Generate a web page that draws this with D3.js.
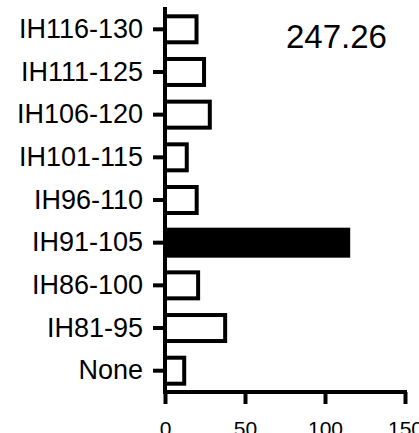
<!DOCTYPE html>
<html>
<head>
<meta charset="utf-8">
<script src="https://cdn.jsdelivr.net/npm/d3@7"></script>
<style>
  html, body { margin: 0; padding: 0; background: #fff; }
  svg { display: block; font-family: Arial, "Liberation Sans", sans-serif; }
</style>
</head>
<body>
<svg id="chart" width="419" height="433"></svg>
<script>
// Data (top to bottom)
const categories = ["IH116-130", "IH111-125", "IH106-120", "IH101-115", "IH96-110",
                    "IH91-105", "IH86-100", "IH81-95", "None"];
const values = [19.7, 24.4, 28, 13.6, 19.8, 114.5, 20.7, 37.6, 12];
const highlighted = ["IH91-105"];
const xTicks = [0, 50, 100, 150];
const annotation = "247.26";

const svg = d3.select("#chart");

const x = d3.scaleLinear().domain([0, 150]).range([165, 405]);
const y = d3.scaleBand().domain(categories).range([7, 393])
  .paddingInner(0.391).paddingOuter(0.218);

const data = categories.map((c, i) => ({ cat: c, val: values[i] }));

// Bars
svg.append("g").selectAll("rect")
  .data(data)
  .join("rect")
  .attr("x", x(0))
  .attr("y", d => y(d.cat))
  .attr("width", d => x(d.val) - x(0))
  .attr("height", y.bandwidth())
  .attr("fill", d => highlighted.includes(d.cat) ? "#000" : "#fff")
  .attr("stroke", "#000")
  .attr("stroke-width", 4);

// Y axis
const yAxis = svg.append("g")
  .attr("transform", `translate(${x(0)},0)`)
  .call(d3.axisLeft(y).tickSize(12).tickSizeOuter(0).tickPadding(10));
yAxis.select(".domain").remove();
yAxis.append("line")
  .attr("x1", 0).attr("x2", 0)
  .attr("y1", 7).attr("y2", 392)
  .attr("stroke", "#000").attr("stroke-width", 4);
yAxis.selectAll(".tick line").attr("stroke", "#000").attr("stroke-width", 4);
yAxis.selectAll(".tick text")
  .attr("font-size", 27)
  .attr("font-family", "Arial, 'Liberation Sans', sans-serif")
  .attr("fill", "#000");

// X axis
const xAxis = svg.append("g")
  .attr("transform", "translate(0,392)")
  .call(d3.axisBottom(x).tickValues(xTicks).tickSize(12).tickSizeOuter(0).tickPadding(17));
xAxis.select(".domain").remove();
xAxis.append("line")
  .attr("x1", x(0) - 2).attr("x2", x(150) + 2)
  .attr("y1", 0).attr("y2", 0)
  .attr("stroke", "#000").attr("stroke-width", 4);
xAxis.selectAll(".tick line").attr("stroke", "#000").attr("stroke-width", 4);
xAxis.selectAll(".tick text")
  .attr("font-size", 21)
  .attr("font-family", "Arial, 'Liberation Sans', sans-serif")
  .attr("fill", "#000");

// Annotation
svg.append("text")
  .attr("x", 286)
  .attr("y", 48)
  .attr("font-size", 33)
  .attr("fill", "#000")
  .text(annotation);
</script>
</body>
</html>
